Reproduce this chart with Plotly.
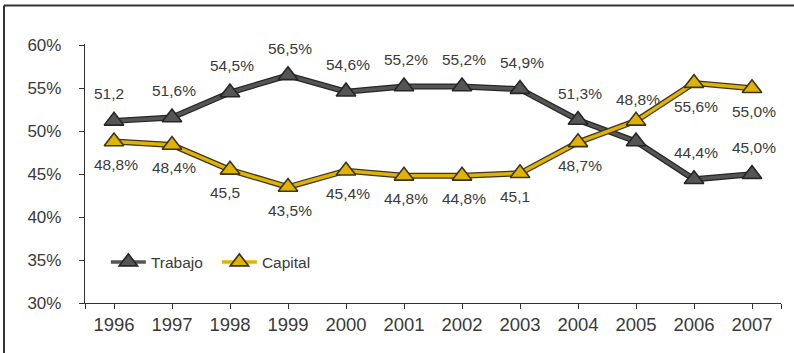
import plotly.graph_objects as go

# Labour vs capital share of income, 1996-2007
years = [1996, 1997, 1998, 1999, 2000, 2001, 2002, 2003, 2004, 2005, 2006, 2007]
trabajo = [51.2, 51.6, 54.5, 56.5, 54.6, 55.2, 55.2, 54.9, 51.3, 48.8, 44.4, 45.0]
capital = [48.8, 48.4, 45.5, 43.5, 45.4, 44.8, 44.8, 45.1, 48.7, 51.2, 55.6, 55.0]
trabajo_labels = ["51,2", "51,6%", "54,5%", "56,5%", "54,6%", "55,2%", "55,2%",
                  "54,9%", "51,3%", "48,8%", "44,4%", "45,0%"]
capital_labels = ["48,8%", "48,4%", "45,5", "43,5%", "45,4%", "44,8%", "44,8%",
                  "45,1", "48,7%", None, "55,6%", "55,0%"]
y_ticks = [30, 35, 40, 45, 50, 55, 60]

W, H = 794, 353
ML, MR, MT, MB = 85, 13, 44, 50
PW, PH = W - ML - MR, H - MT - MB

TEXT = "#3a3a3a"
FONT = "Liberation Sans, Arial, sans-serif"
GRAY, GRAY_EDGE = "#555555", "#262626"
GOLD, GOLD_EDGE = "#dfb300", "#3d3420"

fig = go.Figure()


def add_series(name, ys, color, edge):
    # dark casing under the coloured line
    fig.add_trace(go.Scatter(
        x=years, y=ys, mode="lines", showlegend=False, hoverinfo="skip",
        line=dict(color=edge, width=6)))
    fig.add_trace(go.Scatter(
        x=years, y=ys, mode="lines+markers", name=name,
        line=dict(color=color, width=3.5),
        marker=dict(symbol="triangle-up", size=17, color=color,
                    line=dict(color=edge, width=1.6))))


add_series("Trabajo", trabajo, GRAY, GRAY_EDGE)
add_series("Capital", capital, GOLD, GOLD_EDGE)

# value labels: labour above its point, capital below
extra_up = {2005: 15}
annotations = []
for yr, v, t in zip(years, trabajo, trabajo_labels):
    annotations.append(dict(x=yr, y=v, text=t, showarrow=False, xanchor="left",
                            yanchor="middle", xshift=-22,
                            yshift=27 + extra_up.get(yr, 0),
                            font=dict(family=FONT, size=15.5, color=TEXT)))
for yr, v, t in zip(years, capital, capital_labels):
    if t is None:
        continue
    annotations.append(dict(x=yr, y=v, text=t, showarrow=False, xanchor="left",
                            yanchor="middle", xshift=-22, yshift=-23,
                            font=dict(family=FONT, size=15.5, color=TEXT)))


def px_to_paper_x(px):
    return (px - ML) / PW


def px_to_paper_y(py):
    return (H - MB - py) / PH


# outer frame (top and left edges)
frame = dict(type="line", xref="paper", yref="paper",
             line=dict(color="#333333", width=2))
shapes = [
    dict(frame, x0=px_to_paper_x(4), x1=px_to_paper_x(W + 2),
         y0=px_to_paper_y(5.5), y1=px_to_paper_y(5.5)),
    dict(frame, x0=px_to_paper_x(4), x1=px_to_paper_x(4),
         y0=px_to_paper_y(5.5), y1=px_to_paper_y(H + 2)),
]

x_tickvals = [years[0] - 0.5] + years + [years[-1] + 0.5]
x_ticktext = [""] + [str(y) for y in years] + [""]

fig.update_layout(
    width=W, height=H,
    margin=dict(l=ML, r=MR, t=MT, b=MB, pad=0),
    paper_bgcolor="white", plot_bgcolor="white",
    font=dict(family=FONT, color=TEXT),
    annotations=annotations,
    shapes=shapes,
    legend=dict(x=0.03, y=0.157, xanchor="left", yanchor="middle",
                orientation="h", bgcolor="rgba(0,0,0,0)",
                font=dict(family=FONT, size=15.5, color=TEXT),
                itemwidth=35, tracegroupgap=0, entrywidth=61),
    xaxis=dict(range=[years[0] - 0.5, years[-1] + 0.5],
               tickvals=x_tickvals, ticktext=x_ticktext,
               showgrid=False, zeroline=False,
               showline=True, linecolor="#333333", linewidth=1.3,
               ticks="outside", ticklen=5, tickcolor="#333333", tickwidth=1.2,
               tickfont=dict(family=FONT, size=18.5, color=TEXT)),
    yaxis=dict(range=[30, 60.15], tickvals=y_ticks,
               ticktext=[f"{v}%" for v in y_ticks],
               showgrid=False, zeroline=False,
               showline=True, linecolor="#333333", linewidth=1.3,
               ticks="outside", ticklen=5, tickcolor="#333333", tickwidth=1.2,
               ticklabelstandoff=14,
               tickfont=dict(family=FONT, size=17, color=TEXT)),
)

fig.write_html("out.html")
